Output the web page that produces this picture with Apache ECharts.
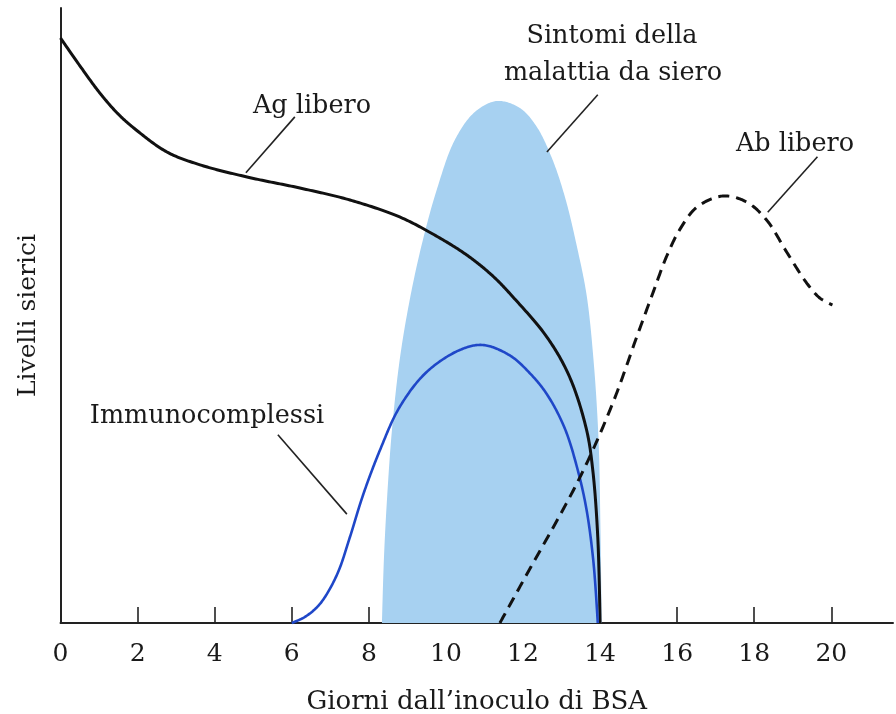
<!DOCTYPE html>
<html>
<head>
<meta charset="utf-8">
<script src="https://cdn.jsdelivr.net/npm/echarts@6/dist/echarts.min.js"></script>
<style>
html,body{margin:0;padding:0;background:#fff;}
#chart{width:896px;height:714px;}
</style>
</head>
<body>
<div id="chart"></div>
<script>
// ---- data (x = giorni, y = livello relativo 0..100) ----
const xTickLabels = [0, 2, 4, 6, 8, 10, 12, 14, 16, 18, 20];
const xTickMarks = [2, 4, 6, 8, 10, 12, 14, 16, 18, 20];

const agLibero = [
  [0, 95.12], [0.58, 89.92], [1.02, 86.18], [1.47, 82.93], [1.88, 80.6],
  [2.76, 76.59], [3.62, 74.5], [4.84, 72.52], [6.21, 70.73], [7.51, 68.78],
  [8.80, 66.02], [9.66, 63.25], [10.54, 59.84], [11.22, 56.4], [11.74, 53.01],
  [12.62, 46.50], [13.21, 40.00], [13.65, 31.38], [13.81, 24.88], [13.94, 13.98],
  [14.0, 0]
];

const immunocomplessi = [
  [6.0, 0], [6.34, 0.98], [6.73, 3.09], [7.17, 7.80], [7.51, 13.98],
  [7.85, 20.81], [8.29, 28.13], [8.80, 35.12], [9.50, 40.81], [10.36, 44.39],
  [10.96, 45.20], [11.66, 43.5], [12.18, 40.6], [12.62, 37.2], [13.08, 31.71],
  [13.42, 24.88], [13.65, 18.37], [13.83, 9.76], [13.94, 0]
];

const abLibero = [
  [11.40, 0], [11.99, 6.7], [13.47, 23.6], [14.33, 35.77], [14.95, 46.50],
  [15.37, 53.66], [15.73, 59.67], [16.07, 64.0], [16.51, 67.6], [17.18, 69.43],
  [17.80, 68.46], [18.32, 65.53], [18.84, 60.33], [19.36, 55.28], [19.70, 52.85],
  [20.03, 51.71]
];

const sintomi = [
  [8.34, 0], [8.39, 10.24], [8.47, 20.0], [8.60, 31.38], [8.80, 42.76],
  [9.06, 52.52], [9.37, 61.46], [9.76, 70.41], [10.23, 78.54], [10.75, 83.09],
  [11.32, 84.88], [11.92, 83.74], [12.36, 80.65], [12.77, 75.28], [13.11, 68.78],
  [13.39, 61.46], [13.65, 53.33], [13.83, 42.76], [13.96, 29.76], [14.01, 15.12],
  [14.04, 0]
];

// leader lines for annotations
const leaderAg = [[6.08, 82.3], [4.81, 73.2]];
const leaderSintomi = [[13.94, 85.9], [12.62, 76.6]];
const leaderAb = [[19.64, 75.8], [18.35, 66.8]];
const leaderImmuno = [[5.64, 30.6], [7.43, 17.7]];

const FONT = '"DejaVu Serif", "Liberation Serif", serif';
const TXT = '#1a1a1a';

// centripetal Catmull-Rom through pixel points (rendering helper)
function spline(pts, steps) {
  if (pts.length < 3) return pts.slice();
  const out = [];
  const P = [pts[0]].concat(pts, [pts[pts.length - 1]]);
  const d = (a, b) => Math.max(1e-4, Math.pow(Math.hypot(b[0] - a[0], b[1] - a[1]), 0.5));
  for (let i = 1; i < P.length - 2; i++) {
    const p0 = P[i - 1], p1 = P[i], p2 = P[i + 1], p3 = P[i + 2];
    const t0 = 0, t1 = t0 + d(p0, p1), t2 = t1 + d(p1, p2), t3 = t2 + d(p2, p3);
    for (let s = 0; s < steps; s++) {
      const t = t1 + (t2 - t1) * s / steps;
      const pt = [0, 1].map(k => {
        const A1 = (t1 - t) / (t1 - t0) * p0[k] + (t - t0) / (t1 - t0) * p1[k];
        const A2 = (t2 - t) / (t2 - t1) * p1[k] + (t - t1) / (t2 - t1) * p2[k];
        const A3 = (t3 - t) / (t3 - t2) * p2[k] + (t - t2) / (t3 - t2) * p3[k];
        const B1 = (t2 - t) / (t2 - t0) * A1 + (t - t0) / (t2 - t0) * A2;
        const B2 = (t3 - t) / (t3 - t1) * A2 + (t - t1) / (t3 - t1) * A3;
        return (t2 - t) / (t2 - t1) * B1 + (t - t1) / (t2 - t1) * B2;
      });
      out.push(pt);
    }
  }
  out.push(pts[pts.length - 1]);
  return out;
}

function curveSeries(name, arr, style, area, z) {
  return {
    name: name, type: 'custom', coordinateSystem: 'cartesian2d', z: z,
    data: arr, silent: true,
    renderItem: function (params, api) {
      if (params.dataIndex !== 0) return null;
      const px = arr.map(p => api.coord(p));
      const pts = spline(px, 24);
      if (area) {
        const base = api.coord([0, 0])[1];
        const poly = pts.concat([[pts[pts.length - 1][0], base], [pts[0][0], base]]);
        return {type: 'polygon', shape: {points: poly}, style: style};
      }
      return {type: 'polyline', shape: {points: pts}, style: Object.assign({fill: null}, style)};
    }
  };
}

function leader(data) {
  return {
    type: 'line', data: data, symbol: 'none', silent: true, z: 4,
    lineStyle: {color: '#222', width: 1.6}
  };
}

const chart = echarts.init(document.getElementById('chart'), null, {renderer: 'canvas'});

const option = {
  backgroundColor: '#ffffff',
  animation: false,
  grid: {left: 60.5, right: 3, top: 8, bottom: 91, containLabel: false, outerBoundsMode: 'none'},
  xAxis: {
    type: 'value', min: 0, max: 21.6, interval: 2,
    name: 'Giorni dall’inoculo di BSA',
    nameLocation: 'middle', nameGap: 66,
    nameTextStyle: {fontFamily: FONT, fontSize: 26, color: TXT},
    axisLine: {show: true, lineStyle: {color: '#222', width: 2}},
    axisTick: {show: true, inside: true, length: 16, customValues: xTickMarks,
      lineStyle: {color: '#222', width: 1.6}},
    axisLabel: {show: true, customValues: xTickLabels, margin: 19,
      fontFamily: FONT, fontSize: 25, color: TXT},
    splitLine: {show: false}
  },
  yAxis: {
    type: 'value', min: 0, max: 100,
    name: 'Livelli sierici',
    nameLocation: 'middle', nameGap: 20, nameRotate: 90,
    nameTextStyle: {fontFamily: FONT, fontSize: 25, color: TXT},
    axisLine: {show: true, lineStyle: {color: '#222', width: 2}},
    axisTick: {show: false},
    axisLabel: {show: false},
    splitLine: {show: false}
  },
  series: [
    curveSeries('Sintomi della malattia da siero', sintomi, {fill: '#a7d1f1', stroke: null}, true, 1),
    curveSeries('Ag libero', agLibero, {stroke: '#111', lineWidth: 3}, false, 3),
    curveSeries('Immunocomplessi', immunocomplessi, {stroke: '#1f47c8', lineWidth: 2.6}, false, 3),
    curveSeries('Ab libero', abLibero, {stroke: '#111', lineWidth: 3, lineDash: [11, 7]}, false, 3),
    leader(leaderAg), leader(leaderSintomi), leader(leaderAb), leader(leaderImmuno)
  ],
  graphic: [
    {type: 'text', style: {text: 'Ag libero', x: 312, y: 106, textAlign: 'center', textVerticalAlign: 'middle', font: '25.5px ' + FONT, fill: TXT}},
    {type: 'text', style: {text: 'Sintomi della', x: 612, y: 36, textAlign: 'center', textVerticalAlign: 'middle', font: '25.5px ' + FONT, fill: TXT}},
    {type: 'text', style: {text: 'malattia da siero', x: 613, y: 73, textAlign: 'center', textVerticalAlign: 'middle', font: '25.5px ' + FONT, fill: TXT}},
    {type: 'text', style: {text: 'Ab libero', x: 795, y: 144, textAlign: 'center', textVerticalAlign: 'middle', font: '25.5px ' + FONT, fill: TXT}},
    {type: 'text', style: {text: 'Immunocomplessi', x: 207, y: 416, textAlign: 'center', textVerticalAlign: 'middle', font: '25.5px ' + FONT, fill: TXT}}
  ]
};
chart.setOption(option);
</script>
</body>
</html>
